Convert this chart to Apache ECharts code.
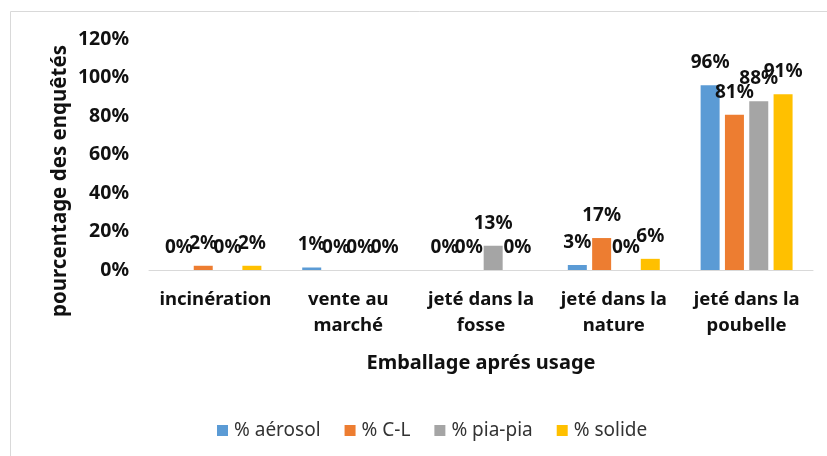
<!DOCTYPE html>
<html>
<head>
<meta charset="utf-8">
<script src="https://cdn.jsdelivr.net/npm/echarts@6/dist/echarts.min.js"></script>
<style>html,body{margin:0;padding:0;background:#fff;}#c{width:827px;height:456px;}</style>
</head>
<body>
<div id="c"></div>
<script>
const categories = ['incinération', 'vente au\nmarché', 'jeté dans la\nfosse', 'jeté dans la\nnature', 'jeté dans la\npoubelle'];
const seriesNames = ['% aérosol', '% C-L', '% pia-pia', '% solide'];
const aerosol = [0, 1.3, 0, 2.6, 96];
const cl = [2.2, 0, 0, 16.6, 80.7];
const piapia = [0, 0, 12.6, 0, 87.6];
const solide = [2.2, 0, 0, 5.8, 91.3];
const yTicks = [0, 20, 40, 60, 80, 100, 120];
const colors = ['#5B9BD5', '#ED7D31', '#A5A5A5', '#FFC000'];

const FONT = '"Noto Sans", sans-serif';
const chart = echarts.init(document.getElementById('c'));
const values = [aerosol, cl, piapia, solide];

chart.setOption({
  animation: false,
  color: colors,
  grid: { left: 149, right: 14, top: 39, bottom: 186, containLabel: false },
  legend: {
    left: 212, top: 416,
    itemWidth: 11, itemHeight: 11, itemGap: 24,
    icon: 'rect',
    textStyle: { fontFamily: FONT, fontSize: 19, color: '#333', padding: [0, 0, 0, 1] },
    data: seriesNames
  },
  xAxis: {
    type: 'category',
    data: categories,
    name: 'Emballage aprés usage',
    nameLocation: 'middle',
    nameGap: 83,
    nameTextStyle: { fontFamily: FONT, fontSize: 20, fontWeight: 'bold', color: '#111', verticalAlign: 'top' },
    axisLine: { lineStyle: { color: '#D9D9D9', width: 1 } },
    axisTick: { show: false },
    axisLabel: { fontFamily: FONT, fontSize: 18.5, fontWeight: 'bold', color: '#111', lineHeight: 26, margin: 17, interval: 0 }
  },
  yAxis: {
    type: 'value',
    min: yTicks[0], max: yTicks[yTicks.length - 1], interval: 20,
    axisLine: { show: false },
    axisTick: { show: false },
    splitLine: { show: false },
    axisLabel: { fontFamily: FONT, fontSize: 19.5, fontWeight: 'bold', color: '#111', margin: 20, formatter: '{value}%' }
  },
  graphic: [
    { type: 'rect', shape: { x: 10.5, y: 11.5, width: 900, height: 600 }, style: { fill: 'none', stroke: '#D9D9D9', lineWidth: 1 }, silent: true },
    { type: 'text', x: 60, y: 181, rotation: Math.PI / 2,
      style: { text: 'pourcentage des enquêtés', fontFamily: FONT, fontSize: 20.5, fontWeight: 'bold', fill: '#111', align: 'center', verticalAlign: 'middle' } }
  ],
  series: seriesNames.map((n, i) => ({
    name: n,
    type: 'bar',
    data: values[i],
    barWidth: 19,
    barGap: '28%',
    label: {
      show: true, position: 'top', distance: 13,
      fontFamily: FONT, fontSize: 19, fontWeight: 'bold', color: '#111',
      formatter: p => Math.round(p.value) + '%'
    }
  }))
});
</script>
</body>
</html>
